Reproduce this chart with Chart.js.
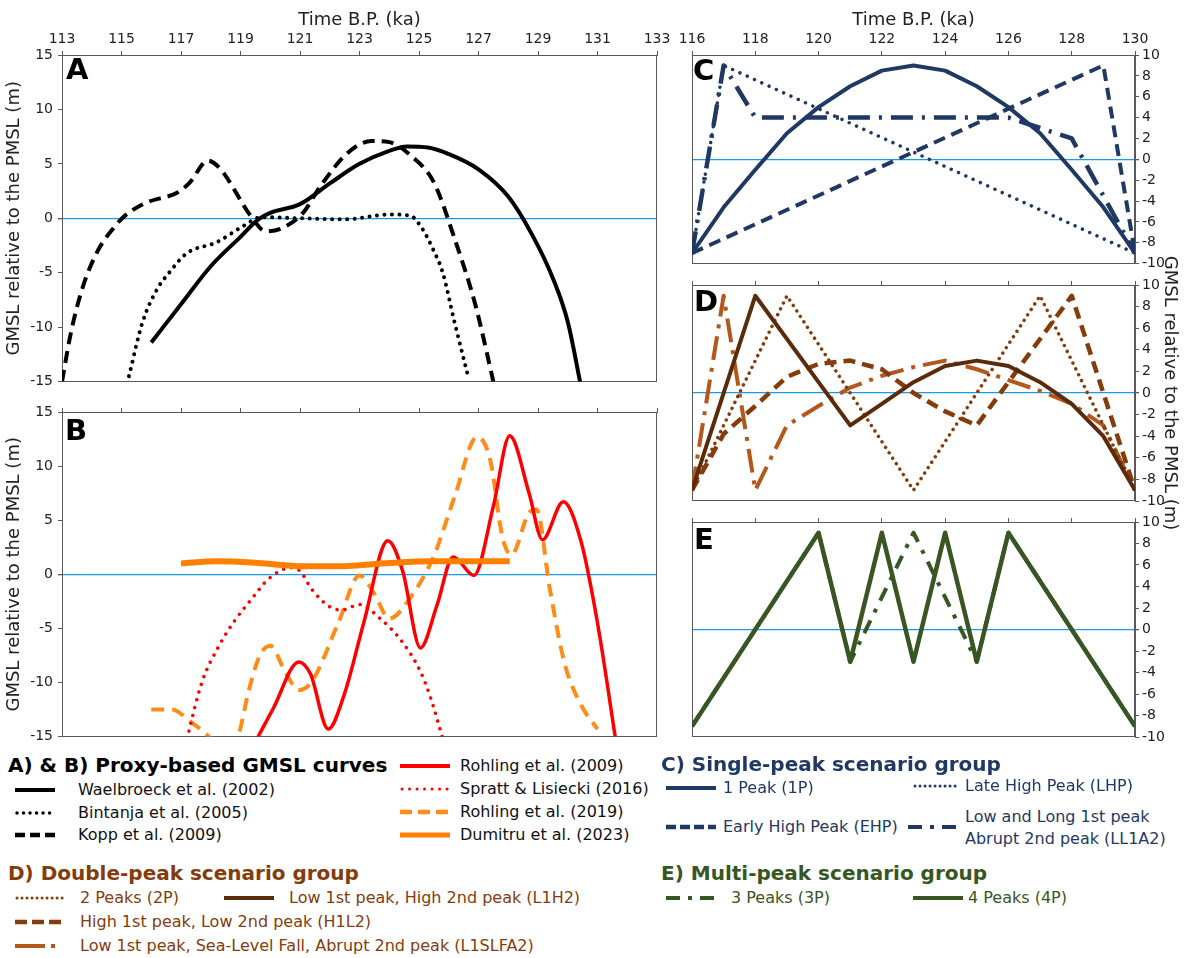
<!DOCTYPE html>
<html>
<head>
<meta charset="utf-8">
<script src="https://cdn.jsdelivr.net/npm/chart.js@4.4.1/dist/chart.umd.min.js"></script>
<style>
body{margin:0;background:#fff;font-family:"DejaVu Sans",Verdana,sans-serif}
#wrap{position:relative;width:1184px;height:958px;overflow:hidden;background:#fff}
canvas{position:absolute}
.tag{position:absolute;font:bold 29px "DejaVu Sans";line-height:1;color:#000}
.t{position:absolute;font-size:16px;white-space:nowrap;transform:translateY(-50%);line-height:20px}
.h{position:absolute;font-size:20px;font-weight:bold;white-space:nowrap;transform:translateY(-50%);line-height:24px}
svg{position:absolute;overflow:visible}
</style>
</head>
<body>
<div id="wrap">
  <canvas id="cA" width="680" height="395" style="left:0;top:0"></canvas>
  <canvas id="cB" width="680" height="355" style="left:0;top:395px"></canvas>
  <canvas id="cC" width="514" height="275" style="left:670px;top:0"></canvas>
  <canvas id="cE" width="514" height="245" style="left:670px;top:505px"></canvas>
  <canvas id="cD" width="514" height="310" style="left:670px;top:240px"></canvas>

  <div class="tag" style="left:66px;top:55px">A</div>
  <div class="tag" style="left:65px;top:416px">B</div>
  <div class="tag" style="left:693px;top:56px">C</div>
  <div class="tag" style="left:694px;top:287px">D</div>
  <div class="tag" style="left:694px;top:525px">E</div>

  <!-- A & B legend -->
  <div class="h" style="left:8px;top:765px;color:#000">A) &amp; B) Proxy-based GMSL curves</div>
  <svg style="left:15px;top:785px" width="40" height="10"><line x1="0" y1="5" x2="40" y2="5" stroke="#000" stroke-width="4"/></svg>
  <div class="t" style="left:78px;top:790px;color:#111">Waelbroeck et al. (2002)</div>
  <svg style="left:15px;top:808px" width="40" height="10"><line x1="2" y1="5" x2="40" y2="5" stroke="#000" stroke-width="3.5" stroke-linecap="round" stroke-dasharray="0.01 6.5"/></svg>
  <div class="t" style="left:78px;top:813px;color:#111">Bintanja et al. (2005)</div>
  <svg style="left:15px;top:830px" width="40" height="10"><line x1="0" y1="5" x2="40" y2="5" stroke="#000" stroke-width="4.5" stroke-dasharray="10 5"/></svg>
  <div class="t" style="left:78px;top:835px;color:#111">Kopp et al. (2009)</div>

  <svg style="left:400px;top:761px" width="50" height="10"><line x1="0" y1="5" x2="50" y2="5" stroke="#ff0000" stroke-width="4"/></svg>
  <div class="t" style="left:460px;top:766px;color:#111">Rohling et al. (2009)</div>
  <svg style="left:400px;top:784px" width="50" height="10"><line x1="2" y1="5" x2="50" y2="5" stroke="#ff0000" stroke-width="3" stroke-linecap="round" stroke-dasharray="0.01 7.5"/></svg>
  <div class="t" style="left:460px;top:789px;color:#111">Spratt &amp; Lisiecki (2016)</div>
  <svg style="left:400px;top:807px" width="50" height="10"><line x1="0" y1="5" x2="50" y2="5" stroke="#ff8c1a" stroke-width="4.5" stroke-dasharray="12 6"/></svg>
  <div class="t" style="left:460px;top:812px;color:#111">Rohling et al. (2019)</div>
  <svg style="left:400px;top:830px" width="50" height="10"><line x1="0" y1="5" x2="50" y2="5" stroke="#ff8000" stroke-width="5"/></svg>
  <div class="t" style="left:460px;top:835px;color:#111">Dumitru et al. (2023)</div>

  <!-- D legend -->
  <div class="h" style="left:8px;top:873px;color:#843c0c">D) Double-peak scenario group</div>
  <svg style="left:15px;top:893px" width="50" height="10"><line x1="2" y1="5" x2="50" y2="5" stroke="#843c0c" stroke-width="3" stroke-linecap="round" stroke-dasharray="0.01 5"/></svg>
  <div class="t" style="left:80px;top:898px;color:#843c0c">2 Peaks (2P)</div>
  <svg style="left:224px;top:893px" width="50" height="10"><line x1="0" y1="5" x2="50" y2="5" stroke="#5a2a0a" stroke-width="4"/></svg>
  <div class="t" style="left:289px;top:898px;color:#843c0c">Low 1st peak, High 2nd peak (L1H2)</div>
  <svg style="left:15px;top:917px" width="50" height="10"><line x1="0" y1="5" x2="50" y2="5" stroke="#843c0c" stroke-width="4.5" stroke-dasharray="12 5"/></svg>
  <div class="t" style="left:80px;top:922px;color:#843c0c">High 1st peak, Low 2nd peak (H1L2)</div>
  <svg style="left:15px;top:941px" width="50" height="10"><line x1="0" y1="5" x2="50" y2="5" stroke="#b5561a" stroke-width="4" stroke-dasharray="30 6 4 10"/></svg>
  <div class="t" style="left:80px;top:946px;color:#843c0c">Low 1st peak, Sea-Level Fall, Abrupt 2nd peak (L1SLFA2)</div>

  <!-- C legend -->
  <div class="h" style="left:661px;top:764px;color:#1f3864">C) Single-peak scenario group</div>
  <svg style="left:666px;top:783px" width="50" height="10"><line x1="0" y1="5" x2="50" y2="5" stroke="#1f3864" stroke-width="4"/></svg>
  <div class="t" style="left:723px;top:788px;color:#1f3864">1 Peak (1P)</div>
  <svg style="left:913px;top:781px" width="45" height="10"><line x1="2" y1="5" x2="45" y2="5" stroke="#1f3864" stroke-width="3" stroke-linecap="round" stroke-dasharray="0.01 5"/></svg>
  <div class="t" style="left:965px;top:786px;color:#1f3864">Late High Peak (LHP)</div>
  <svg style="left:666px;top:822px" width="50" height="10"><line x1="0" y1="5" x2="50" y2="5" stroke="#1f3864" stroke-width="4.5" stroke-dasharray="10 4"/></svg>
  <div class="t" style="left:723px;top:827px;color:#1f3864">Early High Peak (EHP)</div>
  <svg style="left:908px;top:822px" width="50" height="10"><line x1="0" y1="5" x2="50" y2="5" stroke="#1f3864" stroke-width="4" stroke-dasharray="14 8 4 8"/></svg>
  <div class="t" style="left:965px;top:817px;color:#1f3864">Low and Long 1st peak</div>
  <div class="t" style="left:965px;top:839px;color:#1f3864">Abrupt 2nd peak (LL1A2)</div>

  <!-- E legend -->
  <div class="h" style="left:661px;top:873px;color:#375623">E) Multi-peak scenario group</div>
  <svg style="left:666px;top:893px" width="50" height="10"><line x1="0" y1="5" x2="50" y2="5" stroke="#375623" stroke-width="4" stroke-dasharray="14 8 4 8"/></svg>
  <div class="t" style="left:731px;top:898px;color:#375623">3 Peaks (3P)</div>
  <svg style="left:913px;top:893px" width="50" height="10"><line x1="0" y1="5" x2="50" y2="5" stroke="#375623" stroke-width="4"/></svg>
  <div class="t" style="left:968px;top:898px;color:#375623">4 Peaks (4P)</div>
</div>

<script>
// tick values
const ticksAB = [113,115,117,119,121,123,125,127,129,131,133];
const ticksCDE = [116,118,120,122,124,126,128,130];

// panel A: [ka, m]
const waelbroeck = [[116,-11.4],[117,-7.9],[118,-4.4],[119,-1.7],[119.6,-0.1],[120,0.5],[121,1.3],[122,3.2],[123,5.0],[124,6.2],[124.6,6.6],[125.3,6.5],[126,5.9],[127,4.5],[128,2.0],[128.8,-1.5],[129.5,-5.5],[130,-9.5],[130.45,-15.5]];
const bintanja = [[115.25,-14.5],[115.7,-9.6],[116.2,-6.5],[116.6,-5],[117.2,-3.2],[118.2,-2.2],[119.1,-0.7],[119.7,0.1],[121,0],[122.5,-0.1],[124,0.35],[124.7,0.25],[125.05,-0.7],[125.5,-3],[125.8,-5],[126.2,-9.6],[126.65,-14.5]];
const kopp = [[113,-15],[113.3,-10.5],[113.7,-6.3],[114.2,-3.0],[114.7,-1.0],[115.1,0.2],[115.8,1.4],[116.9,2.4],[117.3,3.3],[117.9,5.3],[118.3,4.6],[119.35,0.2],[119.85,-1.2],[120.4,-0.9],[121.1,0.5],[121.7,3.0],[122.6,6.0],[123.4,7.1],[124,7.0],[124.75,5.7],[125.5,3.3],[126.2,-1.9],[126.9,-8],[127.5,-15]];

// panel B
const rohling2009 = [[119.4,-16],[120.1,-12.4],[120.96,-8.1],[121.35,-9.2],[121.95,-14.3],[122.5,-11],[123.15,-4.4],[123.95,3.1],[124.45,0.3],[125.05,-6.8],[125.6,-2.9],[126.15,1.6],[126.85,-0.1],[127.5,6.3],[128.05,12.8],[128.7,7.5],[129.15,3.2],[129.85,6.7],[130.45,3.0],[131.0,-4.5],[131.65,-16]];
const spratt = [[117.2,-15.2],[117.7,-10],[118.3,-6.5],[118.8,-4.3],[119.4,-2.2],[119.95,-0.4],[120.7,0.6],[121.0,0.3],[121.4,-1.4],[122.0,-3.0],[122.4,-3.3],[123.0,-2.8],[123.7,-4.1],[124.45,-6.3],[125.05,-9],[125.4,-11.5],[125.8,-15.2]];
const rohling2019 = [[116,-12.5],[116.7,-12.5],[117.3,-13.6],[118,-15.2],[118.45,-17],[118.9,-15.2],[119.3,-10.5],[119.65,-7.5],[120.0,-6.6],[120.5,-9],[120.96,-10.7],[121.4,-9.9],[122.3,-4.4],[123.0,-0.1],[123.5,-1.8],[124.0,-4.1],[124.75,-2],[125.5,1.7],[126.2,7.2],[126.95,12.7],[127.4,10.5],[127.8,3.5],[128.1,1.8],[128.7,5.7],[128.95,6],[129.4,-1.4],[129.9,-8.3],[130.45,-12.1],[131.0,-14.3]];
const dumitru = [[117,1.0],[118.2,1.2],[119.6,1.05],[121.1,0.75],[122.3,0.75],[124,1.05],[125.5,1.2],[128.05,1.2]];

// panel C
const c1P = [[116,-9],[117,-4.6],[118,-1],[119,2.5],[120,5],[121,7],[122,8.5],[123,9],[124,8.5],[125,7],[126,5],[127,2.5],[128,-1],[129,-4.6],[130,-9]];
const cLHP = [[116,-9],[117,9],[130,-9]];
const cEHP = [[116,-9],[129,9],[130,-9]];
const cLL1A2 = [[116,-9],[117,9],[118,4],[126,4],[127,3],[128,2],[130,-9]];

// panel D
const d2P = [[116,-9],[119,9],[123,-9],[127,9],[130,-9]];
const dL1H2 = [[116,-9],[118,9],[121,-3],[122,-1],[123,1],[124,2.5],[125,3],[126,2.5],[127,1],[128,-1],[129,-4],[130,-9]];
const dH1L2 = [[116,-9],[117,-3.8],[118,-1.2],[119,1.5],[120,2.7],[121,3],[122,2.2],[123,0],[124,-1.7],[125,-3],[128,9],[130,-9]];
const dL1SLFA2 = [[116,-9],[117,9],[118,-9],[119,-3],[120,-1.2],[121,0.5],[122,1.6],[123,2.4],[124,3],[125,2.2],[126,1.2],[127,0.2],[128,-1],[129,-3],[130,-9]];

// panel E
const e4P = [[116,-9],[120,9],[121,-3],[122,9],[123,-3],[124,9],[125,-3],[126,9],[130,-9]];
const e3P = [[116,-9],[120,9],[121,-3],[123,9],[125,-3],[126,9],[130,-9]];

const FONT = '"DejaVu Sans", Verdana, sans-serif';
const AXIS = '#595959';
const ZERO = '#1a9be6';

function ln(pts, color, width, dash, smooth){
  const dotted = dash && dash[0] < 1;
  return {
    data: pts.map(p => ({x:p[0], y:p[1]})),
    borderColor: color, borderWidth: width,
    borderDash: dash || [],
    borderCapStyle: dotted ? 'round' : 'butt',
    borderJoinStyle: 'round',
    pointRadius: 0, fill: false, clip: 0,
    tension: smooth ? 0.4 : 0,
    cubicInterpolationMode: smooth ? 'monotone' : 'default'
  };
}

const frame = {
  id:'frame',
  beforeDatasetsDraw(c){
    const a = c.chartArea, x = c.ctx;
    x.save();
    x.strokeStyle = AXIS; x.lineWidth = 1;
    x.strokeRect(Math.round(a.left)+0.5, Math.round(a.top)+0.5, Math.round(a.right-a.left)-1, Math.round(a.bottom-a.top)-1);
    x.restore();
  }
};

function panel(id, o){
  return new Chart(document.getElementById(id), {
    type:'line',
    data:{datasets:o.sets},
    plugins:[frame],
    options:{
      responsive:false, animation:false, devicePixelRatio:1,
      layout:{padding:o.pad},
      plugins:{legend:{display:false}, tooltip:{enabled:false}},
      scales:{
        x:{
          type:'linear', position:'top', min:o.xmin, max:o.xmax,
          afterBuildTicks: s => { s.ticks = o.xticks.map(v => ({value:v})); },
          afterFit: s => { s.height = o.xh; },
          ticks:{display:o.xlab, font:{family:FONT, size:14}, color:'#222', padding:3, maxRotation:0, autoSkip:false},
          grid:{drawOnChartArea:false, tickLength:4, color:AXIS},
          border:{color:AXIS},
          title:{display:o.xlab, text:'Time B.P. (ka)', font:{family:FONT, size:18}, color:'#222', padding:{top:10, bottom:0}}
        },
        y:{
          type:'linear', position:o.ypos, min:o.ymin, max:o.ymax,
          afterFit: s => { s.width = o.yw; },
          ticks:{stepSize:o.ystep, font:{family:FONT, size:14}, color:'#222', padding:o.ypos==='left'?5:3},
          grid:{
            drawTicks:true, tickLength:4, tickColor:AXIS,
            color: c => (c.tick && c.tick.value === 0) ? ZERO : 'rgba(0,0,0,0)',
            lineWidth: c => (c.tick && c.tick.value === 0) ? 1.3 : 1
          },
          border:{color:AXIS},
          title:{display:o.ytitle, text:'GMSL relative to the PMSL (m)', font:{family:FONT, size:18}, color:'#222', padding:{top:4, bottom:2}}
        }
      }
    }
  });
}

panel('cA', {
  sets:[
    ln(waelbroeck, '#000', 4, null, true),
    ln(bintanja, '#000', 4, [0.01, 7.5], true),
    ln(kopp, '#000', 4, [12, 7], true)
  ],
  pad:{left:0, right:23, top:0, bottom:13},
  xmin:113, xmax:133, xticks:ticksAB, xh:55, xlab:true,
  ymin:-15, ymax:15, ystep:5, ypos:'left', yw:62, ytitle:true
});

panel('cB', {
  sets:[
    ln(dumitru, '#ff8000', 6, null, true),
    ln(rohling2009, '#ff0000', 3.5, null, true),
    ln(spratt, '#ff0000', 3.5, [0.01, 8], true),
    ln(rohling2019, '#ff8c1a', 4, [13, 8], true)
  ],
  pad:{left:0, right:23, top:0, bottom:12},
  xmin:113, xmax:133, xticks:ticksAB, xh:17, xlab:false,
  ymin:-15, ymax:15, ystep:5, ypos:'left', yw:62, ytitle:true
});

panel('cC', {
  sets:[
    ln(c1P, '#1f3864', 4),
    ln(cLHP, '#1f3864', 3.5, [0.01, 8]),
    ln(cEHP, '#1f3864', 4, [12, 7]),
    ln(cLL1A2, '#1f3864', 4.5, [22, 9, 3, 9])
  ],
  pad:{left:22, right:0, top:0, bottom:7},
  xmin:116, xmax:130, xticks:ticksCDE, xh:55, xlab:true,
  ymin:-10, ymax:10, ystep:2, ypos:'right', yw:49, ytitle:false
});

panel('cD', {
  sets:[
    ln(dL1H2, '#5a2a0a', 4),
    ln(d2P, '#843c0c', 3.5, [0.01, 6.5]),
    ln(dH1L2, '#843c0c', 4.5, [12, 7]),
    ln(dL1SLFA2, '#b5561a', 4, [24, 8, 4, 8])
  ],
  pad:{left:22, right:0, top:35, bottom:49},
  xmin:116, xmax:130, xticks:ticksCDE, xh:10, xlab:false,
  ymin:-10, ymax:10, ystep:2, ypos:'right', yw:49, ytitle:true
});

panel('cE', {
  sets:[
    ln(e4P, '#375623', 4.5),
    ln(e3P, '#375623', 4, [14, 9, 4, 9])
  ],
  pad:{left:22, right:0, top:0, bottom:13},
  xmin:116, xmax:130, xticks:ticksCDE, xh:17, xlab:false,
  ymin:-10, ymax:10, ystep:2, ypos:'right', yw:49, ytitle:false
});
</script>
</body>
</html>
